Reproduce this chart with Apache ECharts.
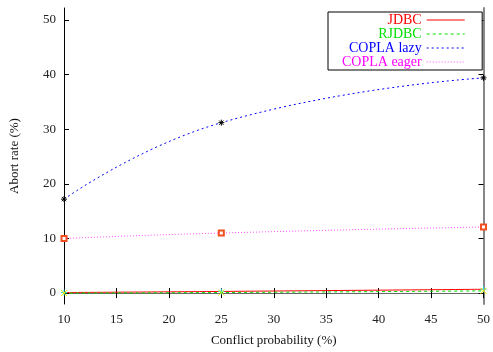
<!DOCTYPE html>
<html>
<head>
<meta charset="utf-8">
<script src="https://cdn.jsdelivr.net/npm/echarts@6/dist/echarts.min.js"></script>
<style>
  html, body { margin: 0; padding: 0; background: #fff; }
  #main { width: 493px; height: 352px; }
</style>
</head>
<body>
<div id="main"></div>
<script>
var conflict = [10, 25, 50];
var jdbc = [0.1, 0.3, 0.7];
var rjdbc = [0.0, 0.1, 0.4];
var coplaLazy = [17.2, 31.2, 39.4];
var coplaEager = [10.0, 11.0, 12.1];
var yTicks = [0, 10, 20, 30, 40, 50];

var font = 'Liberation Serif';
var chart = echarts.init(document.getElementById('main'));

function pairs(ys) {
  return conflict.map(function (x, i) { return [x, ys[i]]; });
}

var asterisk = 'path://M5,0L5,10M0,5L10,5M1.5,1.5L8.5,8.5M8.5,1.5L1.5,8.5';
var plus = 'path://M5,0L5,10M0,5L10,5';
var cross = 'path://M1,1L9,9M9,1L1,9';

var option = {
  animation: false,
  grid: { left: 63, right: 7, top: 8, bottom: 46, containLabel: false },
  xAxis: [{
    type: 'value', min: 10, max: 50, interval: 5,
    name: 'Conflict probability (%)', nameLocation: 'middle', nameGap: 30,
    nameTextStyle: { fontFamily: font, fontSize: 13, color: '#111' },
    axisLine: { lineStyle: { color: '#000', width: 1 } },
    axisTick: { inside: true, length: 5, lineStyle: { color: '#000' } },
    axisLabel: { fontFamily: font, fontSize: 13, color: '#222', margin: 9 },
    splitLine: { show: false }
  }, {
    type: 'value', min: 10, max: 50, interval: 5, position: 'top',
    axisLine: { show: true, lineStyle: { color: '#666', width: 1 } },
    axisTick: { inside: true, length: 5, lineStyle: { color: '#000' } },
    axisLabel: { show: false },
    splitLine: { show: false }
  }],
  yAxis: [{
    type: 'value', min: -2, max: 52.2,
    name: 'Abort rate (%)', nameLocation: 'middle', nameGap: 43,
    nameTextStyle: { fontFamily: font, fontSize: 13, color: '#111' },
    axisLine: { show: true, lineStyle: { color: '#000', width: 1 } },
    axisTick: { inside: true, length: 5, customValues: yTicks, lineStyle: { color: '#000' } },
    axisLabel: { fontFamily: font, fontSize: 13, color: '#222', margin: 8, customValues: yTicks },
    splitLine: { show: false }
  }, {
    type: 'value', min: -2, max: 52.2, position: 'right',
    axisLine: { show: true, lineStyle: { color: '#888', width: 2 } },
    axisTick: { inside: true, length: 5, customValues: yTicks, lineStyle: { color: '#000' } },
    axisLabel: { show: false },
    splitLine: { show: false }
  }],
  legend: {
    orient: 'vertical', left: 328, top: 12, align: 'right',
    backgroundColor: '#fff', borderColor: '#000', borderWidth: 1,
    padding: [1, 17, 1, 14], itemGap: 0, itemWidth: 38, itemHeight: 12,
    itemStyle: { opacity: 0 },
    lineStyle: { width: 1 },
    textStyle: { fontFamily: font, fontSize: 14, lineHeight: 13 },
    data: [
      { name: 'JDBC', textStyle: { color: '#ff0000' } },
      { name: 'RJDBC', textStyle: { color: '#00dd00' } },
      { name: 'COPLA lazy', textStyle: { color: '#0000ff' } },
      { name: 'COPLA eager', textStyle: { color: '#ff00ff' } }
    ]
  },
  series: [{
    name: 'JDBC', type: 'line', data: pairs(jdbc), smooth: true,
    symbol: plus, symbolSize: 6,
    lineStyle: { color: '#ff0000', width: 1, type: 'solid' },
    itemStyle: { color: '#30e0e0', borderColor: '#30e0e0', borderWidth: 1 }
  }, {
    name: 'RJDBC', type: 'line', data: pairs(rjdbc), smooth: true,
    symbol: cross, symbolSize: 6,
    lineStyle: { color: '#00dd00', width: 1, type: [3, 3] },
    itemStyle: { color: '#e8e800', borderColor: '#e8e800', borderWidth: 1 }
  }, {
    name: 'COPLA lazy', type: 'line', data: pairs(coplaLazy), smooth: true,
    symbol: asterisk, symbolSize: 6,
    lineStyle: { color: '#0000ff', width: 1, type: [2, 3] },
    itemStyle: { color: '#000', borderColor: '#000', borderWidth: 1 }
  }, {
    name: 'COPLA eager', type: 'line', data: pairs(coplaEager), smooth: true,
    symbol: 'emptyRect', symbolSize: 5,
    lineStyle: { color: '#ff00ff', width: 1, type: [1, 2], opacity: 0.7 },
    itemStyle: { color: '#f05020', borderColor: '#f05020', borderWidth: 1 }
  }]
};

chart.setOption(option);
</script>
</body>
</html>
